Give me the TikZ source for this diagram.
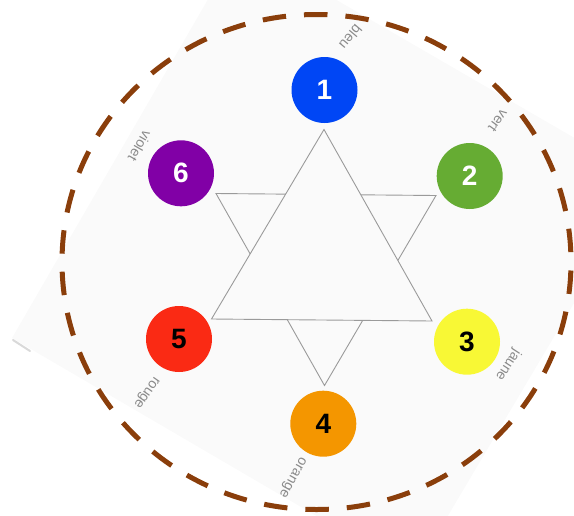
\documentclass[tikz,border=0pt]{standalone}
\usepackage{fontspec}
\setmainfont{Liberation Sans}
\definecolor{dashbrown}{HTML}{8A3E0B}
\definecolor{bgfill}{HTML}{FAFAFA}
\definecolor{trigray}{HTML}{9A9A9A}
\definecolor{labgray}{HTML}{8A8A8A}
\definecolor{cblue}{HTML}{0046F5}
\definecolor{cgreen}{HTML}{66AC33}
\definecolor{cyellow}{HTML}{F8F835}
\definecolor{corange}{HTML}{F49600}
\definecolor{cred}{HTML}{FA2A14}
\definecolor{cpurple}{HTML}{8100A6}
\tikzset{
  ball/.style={circle, minimum size=66pt, inner sep=0pt,
    font=\fontsize{28}{28}\selectfont\bfseries},
  lab/.style={text=labgray, inner sep=0pt, font=\fontsize{14}{14}\selectfont},
  tri/.style={draw=trigray, line width=0.9pt, line join=miter},
  ring/.style={draw=dashbrown, line width=5pt, dash pattern=on 23.5pt off 18pt, dash phase=33pt},
}
\begin{document}
\begin{tikzpicture}[x=1pt,y=-1pt]
\useasboundingbox (0,0) rectangle (574,515);
% light background square
\fill[bgfill] (12,338) -- (240,-56) -- (647,180) -- (414,573) -- cycle;
\draw[gray!30, line width=2pt, line cap=round] (13,340) -- (30,351);
% star
\draw[tri] (216,193.5) -- (436,195.5) -- (324.5,385.5) -- cycle;
\filldraw[tri, fill=bgfill] (324,129.5) -- (432,321) -- (211.5,319) -- cycle;
% dashed ring
\draw[ring] (316.5,262) ellipse [x radius=254.5, y radius=247.5];
% circles
\node[ball, fill=cblue, text=white] (c1) at (324.5,90) {1};
\node[ball, fill=cgreen, text=white] (c2) at (469.7,176) {2};
\node[ball, fill=cyellow, text=black] (c3) at (467,341.7) {3};
\node[ball, fill=corange, text=black] (c4) at (323.3,423.7) {4};
\node[ball, fill=cred, text=black] (c5) at (179,339) {5};
\node[ball, fill=cpurple, text=white] (c6) at (181,173.3) {6};
% labels
\node[lab, rotate=230] (l1) at (350.7,37.3) {bleu};
\node[lab, rotate=234] (l2) at (498,121) {vert};
\node[lab, rotate=237] (l3) at (508,365) {jaune};
\node[lab, rotate=241] (l4) at (292,477) {orange};
\node[lab, rotate=235] (l5) at (146,392) {rouge};
\node[lab, rotate=240] (l6) at (140,146) {violet};
\end{tikzpicture}
\end{document}
